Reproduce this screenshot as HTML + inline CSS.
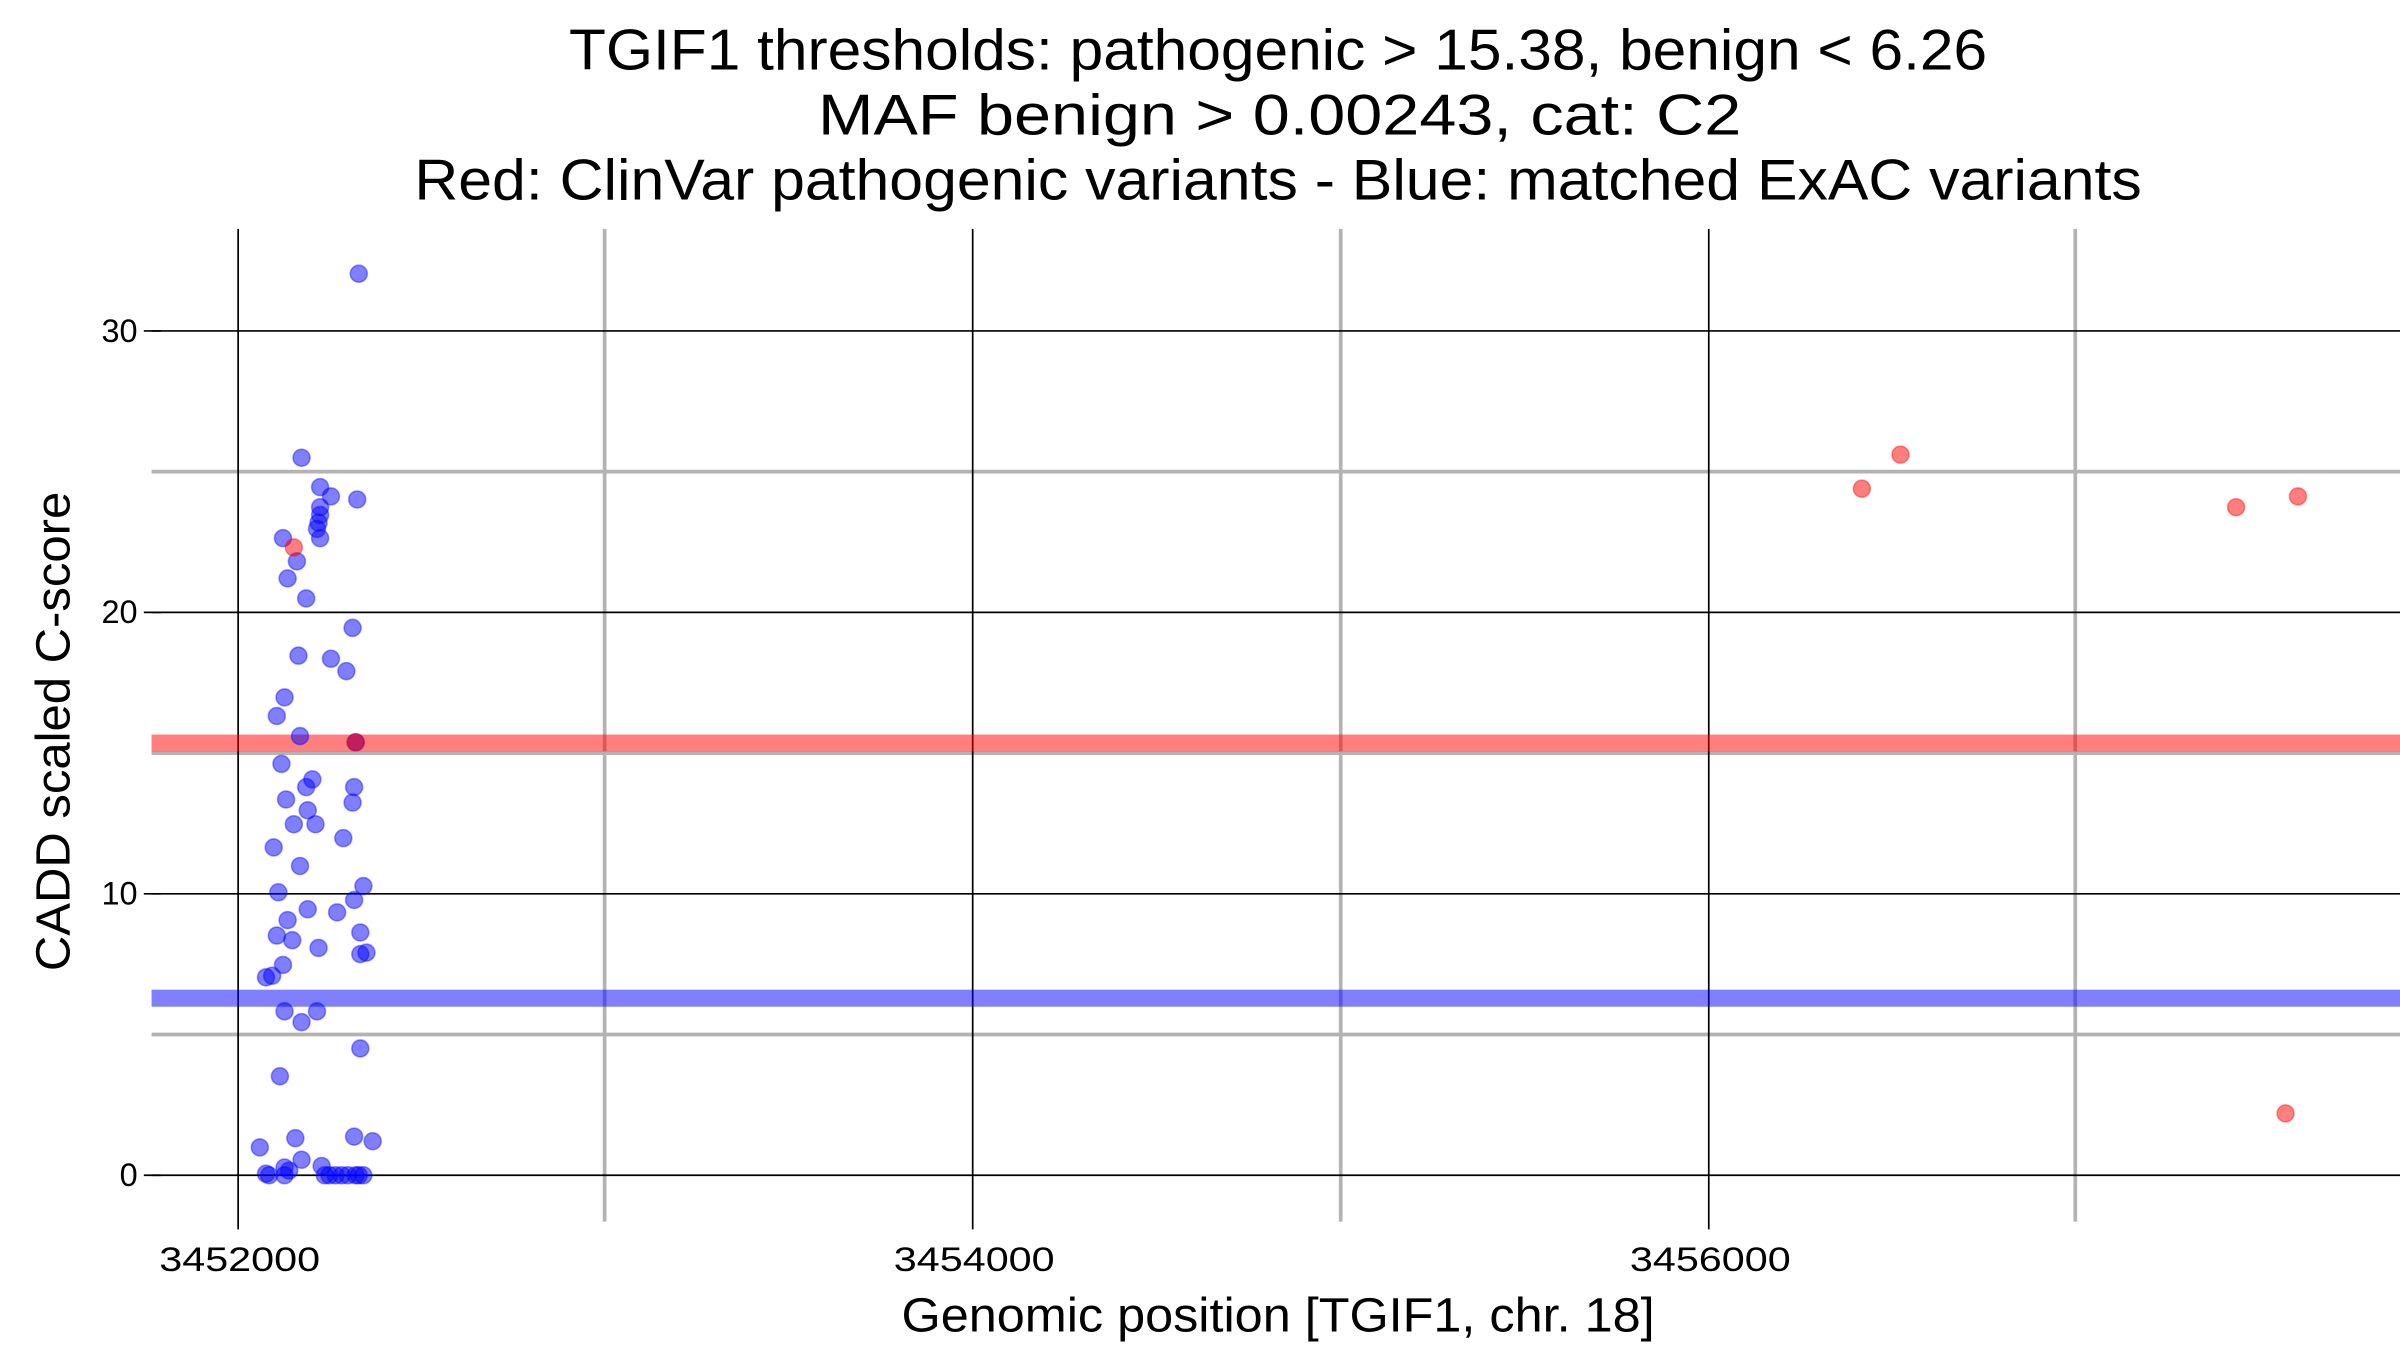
<!DOCTYPE html>
<html><head><style>html,body{margin:0;padding:0;background:#fff;}svg{display:block}</style></head>
<body>
<svg width="2400" height="1350" viewBox="0 0 1552 873" preserveAspectRatio="none" xmlns="http://www.w3.org/2000/svg" font-family="Liberation Sans, sans-serif">
<rect width="1552" height="873" fill="#fff"/>
<g stroke="#b3b3b3" stroke-width="2.4">
<line x1="98" x2="1552" y1="669" y2="669"/><line x1="98" x2="1552" y1="487" y2="487"/><line x1="98" x2="1552" y1="305" y2="305"/>
<line x1="391" x2="391" y1="148" y2="790"/><line x1="867" x2="867" y1="148" y2="790"/><line x1="1342" x2="1342" y1="148" y2="790"/>
</g>
<g stroke="#000" stroke-width="1.1">
<line x1="98" x2="1552" y1="760" y2="760"/><line x1="98" x2="1552" y1="578" y2="578"/><line x1="98" x2="1552" y1="396" y2="396"/><line x1="98" x2="1552" y1="214" y2="214"/>
<line x1="154" x2="154" y1="148" y2="795"/><line x1="629" x2="629" y1="148" y2="795"/><line x1="1105" x2="1105" y1="148" y2="795"/>
<line x1="93" x2="104" y1="760" y2="760"/><line x1="93" x2="104" y1="578" y2="578"/><line x1="93" x2="104" y1="396" y2="396"/><line x1="93" x2="104" y1="214" y2="214"/>
</g>
<rect x="98" y="475" width="1454" height="11" fill="#ff0000" fill-opacity="0.5"/>
<rect x="98" y="640" width="1454" height="11" fill="#0000ff" fill-opacity="0.5"/>
<g fill="#0000ff" fill-opacity="0.5" stroke="#0000ff" stroke-opacity="0.4" stroke-width="1">
<circle cx="232" cy="177" r="5.5"/><circle cx="195" cy="296" r="5.5"/><circle cx="207" cy="315" r="5.5"/><circle cx="214" cy="321" r="5.5"/><circle cx="231" cy="323" r="5.5"/><circle cx="207" cy="328" r="5.5"/><circle cx="207" cy="333" r="5.5"/><circle cx="206" cy="338" r="5.5"/><circle cx="205" cy="342" r="5.5"/><circle cx="183" cy="348" r="5.5"/><circle cx="207" cy="348" r="5.5"/><circle cx="192" cy="363" r="5.5"/><circle cx="186" cy="374" r="5.5"/><circle cx="198" cy="387" r="5.5"/><circle cx="228" cy="406" r="5.5"/><circle cx="193" cy="424" r="5.5"/><circle cx="214" cy="426" r="5.5"/><circle cx="224" cy="434" r="5.5"/><circle cx="184" cy="451" r="5.5"/><circle cx="179" cy="463" r="5.5"/><circle cx="194" cy="476" r="5.5"/><circle cx="230" cy="480" r="5.5"/><circle cx="182" cy="494" r="5.5"/><circle cx="202" cy="504" r="5.5"/><circle cx="198" cy="509" r="5.5"/><circle cx="229" cy="509" r="5.5"/><circle cx="185" cy="517" r="5.5"/><circle cx="199" cy="524" r="5.5"/><circle cx="228" cy="519" r="5.5"/><circle cx="190" cy="533" r="5.5"/><circle cx="204" cy="533" r="5.5"/><circle cx="222" cy="542" r="5.5"/><circle cx="177" cy="548" r="5.5"/><circle cx="194" cy="560" r="5.5"/><circle cx="235" cy="573" r="5.5"/><circle cx="180" cy="577" r="5.5"/><circle cx="229" cy="582" r="5.5"/><circle cx="199" cy="588" r="5.5"/><circle cx="218" cy="590" r="5.5"/><circle cx="186" cy="595" r="5.5"/><circle cx="233" cy="603" r="5.5"/><circle cx="179" cy="605" r="5.5"/><circle cx="206" cy="613" r="5.5"/><circle cx="189" cy="608" r="5.5"/><circle cx="233" cy="617" r="5.5"/><circle cx="237" cy="616" r="5.5"/><circle cx="183" cy="624" r="5.5"/><circle cx="172" cy="632" r="5.5"/><circle cx="176" cy="631" r="5.5"/><circle cx="184" cy="654" r="5.5"/><circle cx="195" cy="661" r="5.5"/><circle cx="205" cy="654" r="5.5"/><circle cx="233" cy="678" r="5.5"/><circle cx="181" cy="696" r="5.5"/><circle cx="168" cy="742" r="5.5"/><circle cx="191" cy="736" r="5.5"/><circle cx="229" cy="735" r="5.5"/><circle cx="241" cy="738" r="5.5"/><circle cx="195" cy="750" r="5.5"/><circle cx="184" cy="755" r="5.5"/><circle cx="208" cy="754" r="5.5"/><circle cx="174" cy="760" r="5.5"/><circle cx="172" cy="759" r="5.5"/><circle cx="184" cy="760" r="5.5"/><circle cx="187" cy="757" r="5.5"/><circle cx="210" cy="760" r="5.5"/><circle cx="213" cy="760" r="5.5"/><circle cx="217" cy="760" r="5.5"/><circle cx="221" cy="760" r="5.5"/><circle cx="225" cy="760" r="5.5"/><circle cx="230" cy="760" r="5.5"/><circle cx="232" cy="760" r="5.5"/><circle cx="235" cy="760" r="5.5"/>
</g>
<g fill="#ff0000" fill-opacity="0.5" stroke="#ff0000" stroke-opacity="0.4" stroke-width="1">
<circle cx="190" cy="354" r="5.5"/><circle cx="230" cy="480" r="5.5"/><circle cx="1204" cy="316" r="5.5"/><circle cx="1229" cy="294" r="5.5"/><circle cx="1446" cy="328" r="5.5"/><circle cx="1486" cy="321" r="5.5"/><circle cx="1478" cy="720" r="5.5"/>
</g>
<g font-size="21" fill="#000" text-anchor="end">
<text x="89" y="767">0</text><text x="89" y="585">10</text><text x="89" y="403">20</text><text x="89" y="221">30</text>
</g>
<g font-size="22" fill="#000">
<text x="103" y="822" textLength="104" lengthAdjust="spacingAndGlyphs">3452000</text><text x="578" y="822" textLength="104" lengthAdjust="spacingAndGlyphs">3454000</text><text x="1054" y="822" textLength="104" lengthAdjust="spacingAndGlyphs">3456000</text>
</g>
<text x="583" y="861" font-size="31" textLength="487" lengthAdjust="spacingAndGlyphs">Genomic position [TGIF1, chr. 18]</text>
<text transform="translate(45,628) rotate(-90)" font-size="31" textLength="310" lengthAdjust="spacingAndGlyphs">CADD scaled C-score</text>
<g font-size="37">
<text x="368" y="45" textLength="917" lengthAdjust="spacingAndGlyphs">TGIF1 thresholds: pathogenic &gt; 15.38, benign &lt; 6.26</text>
<text x="529" y="87" textLength="597" lengthAdjust="spacingAndGlyphs">MAF benign &gt; 0.00243, cat: C2</text>
<text x="268" y="129" textLength="1117" lengthAdjust="spacingAndGlyphs">Red: ClinVar pathogenic variants - Blue: matched ExAC variants</text>
</g>
</svg>
</body></html>
